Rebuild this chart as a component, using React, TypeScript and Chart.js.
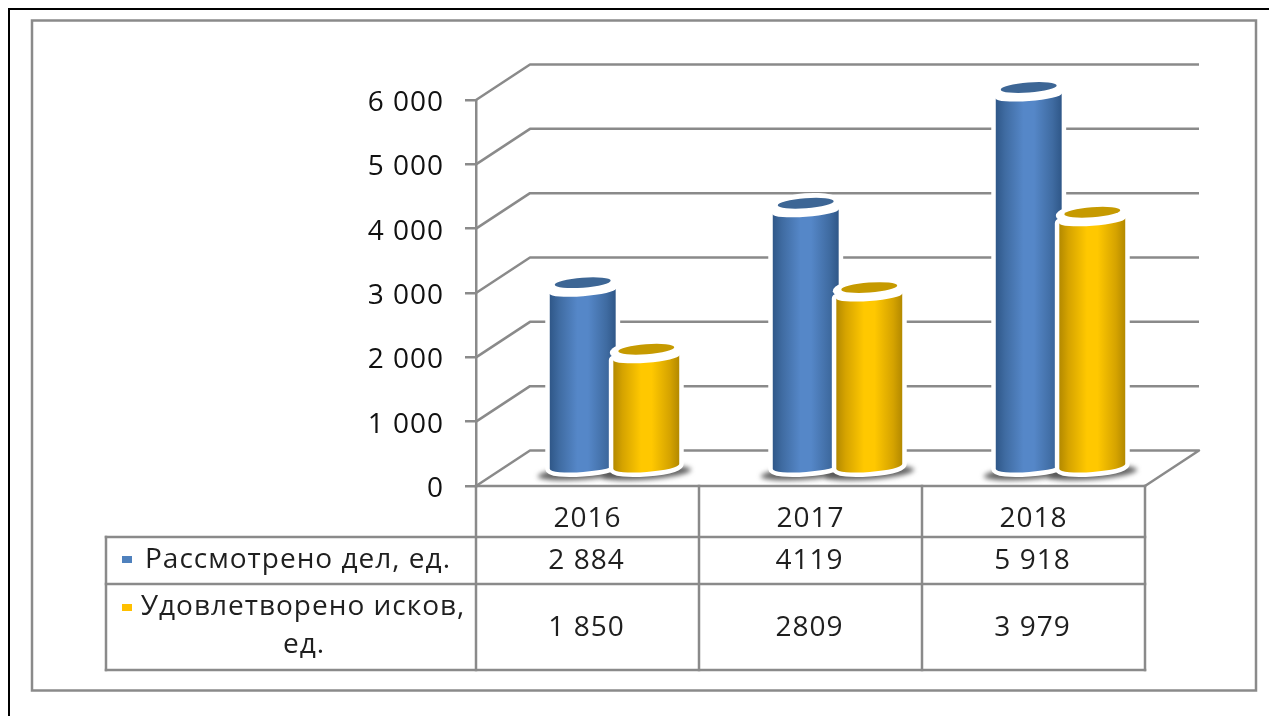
import React, { useEffect, useRef } from "react";
import { Chart, registerables } from "chart.js";

Chart.register(...registerables);

const years = ["2016", "2017", "2018"];
const consideredLabel = "Рассмотрено дел, ед.";
const satisfiedLabelLines = ["Удовлетворено исков,", "ед."];
const considered = [2884, 4119, 5918];
const satisfied = [1850, 2809, 3979];
const consideredText = ["2 884", "4119", "5 918"];
const satisfiedText = ["1 850", "2809", "3 979"];

const FONT = '"Open Sans"';
const GREY = "#8a8a8a";
const TEXT = "#1f1f1f";
const DEPTH_X = 54;
const DEPTH_Y = -35.5;
const BLUE = { light: "#5587c8", mid: "#3f6ba1", dark: "#2f5788", top: "#3d6695", key: "#4f81bd" };
const GOLD = { light: "#ffc800", mid: "#d5a300", dark: "#b38900", top: "#c69a00", key: "#ffc000" };
const TILT = -0.075;

function cylinder(ctx: CanvasRenderingContext2D, x: number, width: number, topPx: number, basePx: number, c: typeof BLUE) {
  const cx = x + DEPTH_X / 2;
  const rx = width / 2;
  const faceY = topPx + DEPTH_Y / 2;
  const shoulderY = faceY + 8.5;
  const floorY = basePx + DEPTH_Y / 2 - 0.5;
  const outline = () => {
    ctx.beginPath();
    ctx.ellipse(cx, shoulderY, rx, 5, TILT, Math.PI, 0, true);
    ctx.ellipse(cx, floorY, rx, 5.5, TILT, 0, Math.PI, false);
    ctx.closePath();
  };
  // white bevel halo
  ctx.save();
  ctx.fillStyle = "#fff";
  ctx.strokeStyle = "#fff";
  ctx.lineWidth = 9;
  ctx.lineJoin = "round";
  outline();
  ctx.fill();
  ctx.stroke();
  ctx.beginPath();
  ctx.ellipse(cx, faceY + 1, rx + 3.5, 11, TILT, 0, Math.PI * 2);
  ctx.fill();
  ctx.restore();
  // body
  const g = ctx.createLinearGradient(cx - rx, 0, cx + rx, 0);
  g.addColorStop(0, c.dark);
  g.addColorStop(0.14, c.mid);
  g.addColorStop(0.42, c.light);
  g.addColorStop(0.58, c.light);
  g.addColorStop(0.86, c.mid);
  g.addColorStop(1, c.dark);
  ctx.fillStyle = g;
  outline();
  ctx.fill();
  // top face
  ctx.fillStyle = c.top;
  ctx.beginPath();
  ctx.ellipse(cx, faceY, rx - 5, 5, TILT, 0, Math.PI * 2);
  ctx.fill();
}

const scene3d = {
  id: "scene3d",
  beforeDraw(chart: any) {
    const { ctx, width, height } = chart;
    ctx.save();
    ctx.fillStyle = "#fff";
    ctx.fillRect(0, 0, width, height);
    // outer black frame
    ctx.strokeStyle = "#000";
    ctx.lineWidth = 2;
    ctx.beginPath();
    ctx.moveTo(9, height);
    ctx.lineTo(9, 9);
    ctx.lineTo(width, 9);
    ctx.stroke();
    // grey chart frame
    ctx.strokeStyle = GREY;
    ctx.lineWidth = 2.5;
    ctx.strokeRect(32, 20.5, 1224, 670);
    ctx.restore();
    (ctx as any).letterSpacing = "1px";
  },
  beforeDatasetsDraw(chart: any) {
    const { ctx, chartArea, scales } = chart;
    const { left, right } = chartArea;
    ctx.save();
    ctx.strokeStyle = GREY;
    ctx.lineWidth = 2.5;
    ctx.lineJoin = "round";
    scales.y.ticks.forEach((t: any) => {
      const y = scales.y.getPixelForValue(t.value);
      ctx.beginPath();
      ctx.moveTo(left, y);
      ctx.lineTo(left + DEPTH_X, y + DEPTH_Y);
      ctx.lineTo(right + DEPTH_X, y + DEPTH_Y);
      if (t.value === 0) ctx.lineTo(right, y);
      ctx.stroke();
    });
    ctx.restore();
  },
  beforeDatasetDraw() {
    return false;
  },
  afterDatasetsDraw(chart: any) {
    const { ctx } = chart;
    const a = chart.getDatasetMeta(0).data;
    const b = chart.getDatasetMeta(1).data;
    a.forEach((barA: any, i: number) => {
      const barB = b[i];
      ctx.save();
      // soft floor shadow
      [barA, barB].forEach((bar: any) => {
        ctx.save();
        ctx.filter = "blur(2.5px)";
        ctx.fillStyle = "rgba(70,70,70,0.85)";
        ctx.beginPath();
        ctx.ellipse(bar.x + DEPTH_X / 2, bar.base + DEPTH_Y / 2 + 6, bar.width / 2 + 12, 6.5, TILT, 0, Math.PI * 2);
        ctx.fill();
        ctx.restore();
      });
      cylinder(ctx, barA.x, barA.width, barA.y, barA.base, BLUE);
      cylinder(ctx, barB.x, barB.width, barB.y, barB.base, GOLD);
      ctx.restore();
    });
  },
  afterDraw(chart: any) {
    const { ctx, chartArea, scales } = chart;
    const { left, right, bottom } = chartArea;
    const tableLeft = 106;
    const rowA = 537;
    const rowB = 584;
    const rowC = 670;
    ctx.save();
    ctx.strokeStyle = GREY;
    ctx.lineWidth = 2.5;
    ctx.lineCap = "square";
    const line = (x1: number, y1: number, x2: number, y2: number) => {
      ctx.beginPath();
      ctx.moveTo(x1, y1);
      ctx.lineTo(x2, y2);
      ctx.stroke();
    };
    line(left, bottom, right, bottom);
    line(tableLeft, rowA, right, rowA);
    line(tableLeft, rowB, right, rowB);
    line(tableLeft, rowC, right, rowC);
    line(tableLeft, rowA, tableLeft, rowC);
    const cellW = (right - left) / years.length;
    for (let i = 0; i <= years.length; i++) {
      const x = left + cellW * i;
      line(x, bottom, x, rowC);
    }
    ctx.fillStyle = TEXT;
    ctx.font = `28px ${FONT}`;
    ctx.textAlign = "center";
    ctx.textBaseline = "middle";
    years.forEach((_, i) => {
      const x = scales.x.getPixelForValue(i) - 1;
      ctx.fillText(consideredText[i], x, 561);
      ctx.fillText(satisfiedText[i], x, 628);
    });
    ctx.fillText(consideredLabel, 298, 560);
    ctx.fillText(satisfiedLabelLines[0], 303, 607);
    ctx.fillText(satisfiedLabelLines[1], 304, 645);
    ctx.fillStyle = BLUE.key;
    ctx.fillRect(122, 556, 10, 7);
    ctx.fillStyle = GOLD.key;
    ctx.fillRect(122, 604, 10, 7);
    ctx.restore();
  },
};

export default function App() {
  const ref = useRef<HTMLCanvasElement>(null);
  useEffect(() => {
    document.body.style.margin = "0";
    const chart = new Chart(ref.current as HTMLCanvasElement, {
      type: "bar",
      data: {
        labels: years,
        datasets: [
          { label: consideredLabel, data: considered, backgroundColor: BLUE.key, categoryPercentage: 0.57, barPercentage: 1.04 },
          { label: satisfiedLabelLines.join(" "), data: satisfied, backgroundColor: GOLD.key, categoryPercentage: 0.57, barPercentage: 1.04 },
        ],
      },
      options: {
        responsive: false,
        animation: false,
        devicePixelRatio: 1,
        layout: { autoPadding: false, padding: { left: 0, top: 100, right: 124, bottom: 0 } },
        plugins: { legend: { display: false }, tooltip: { enabled: false }, title: { display: false } },
        scales: {
          x: {
            afterFit(s: any) { s.height = 230; },
            grid: { display: false, drawTicks: false },
            border: { display: false },
            ticks: { color: TEXT, font: { family: FONT, size: 28 }, padding: 16, maxRotation: 0 },
          },
          y: {
            min: 0,
            max: 6000,
            afterFit(s: any) { s.width = 476; },
            grid: { drawOnChartArea: false, drawTicks: true, tickLength: 11, color: GREY, lineWidth: 2.5 },
            border: { display: true, color: GREY, width: 2.5 },
            ticks: {
              stepSize: 1000,
              padding: 21,
              labelOffset: 3,
              color: "#111",
              font: { family: FONT, size: 28 },
              callback: (v: any) => (v === 0 ? "0" : `${Number(v) / 1000} 000`),
            },
          },
        },
      } as any,
      plugins: [scene3d as any],
    });
    return () => chart.destroy();
  }, []);
  return (
    <div style={{ position: "absolute", left: 0, top: 0, width: 1269, height: 716 }}>
      <canvas ref={ref} width={1269} height={716} style={{ display: "block", width: 1269, height: 716, filter: "blur(0.5px)" }} />
    </div>
  );
}
